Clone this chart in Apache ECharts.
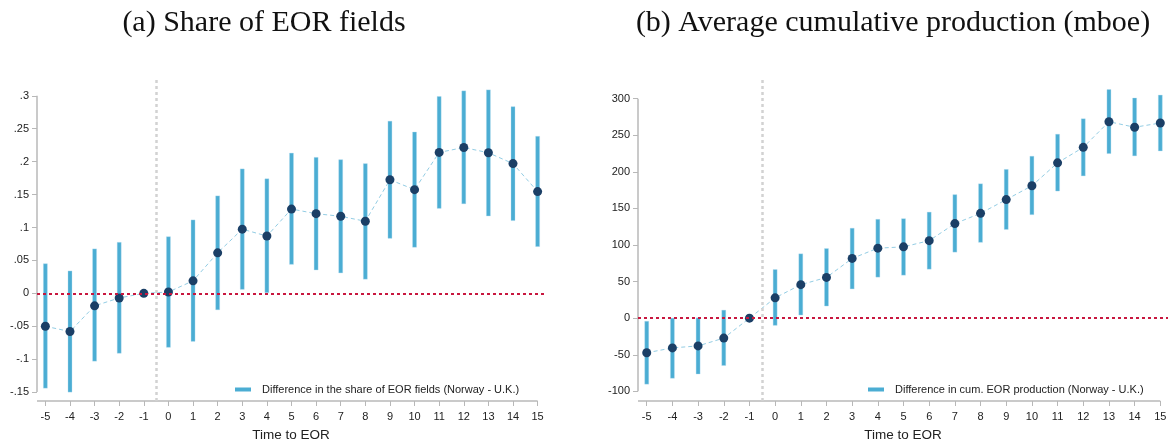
<!DOCTYPE html>
<html>
<head>
<meta charset="utf-8">
<script src="https://cdn.jsdelivr.net/npm/echarts@6/dist/echarts.min.js"></script>
<style>html,body{margin:0;padding:0;background:#fff}#c{width:1171px;height:447px}</style>
</head>
<body>
<div id="c"></div>
<script>
// ---- data ----
const timeToEOR = [-5,-4,-3,-2,-1,0,1,2,3,4,5,6,7,8,9,10,11,12,13,14,15];
const shareEst = [-0.050,-0.058,-0.019,-0.007,0,0.002,0.019,0.0615,0.0975,0.087,0.128,0.121,0.117,0.1095,0.1725,0.1575,0.214,0.2215,0.2135,0.197,0.1545];
const shareLo  = [-0.144,-0.150,-0.103,-0.091,null,-0.082,-0.073,-0.025,0.006,0.001,0.044,0.0355,0.031,0.0215,0.0835,0.070,0.129,0.136,0.1175,0.1105,0.071];
const shareHi  = [0.045,0.034,0.0675,0.0775,null,0.086,0.1115,0.148,0.189,0.174,0.213,0.2065,0.203,0.197,0.2615,0.245,0.299,0.3075,0.309,0.2835,0.2385];
const prodEst = [-47.3,-40.6,-37.9,-27.2,0,27.8,45.8,55.7,81.7,95.7,97.5,106,129.3,143.3,162.1,181,212.4,233.5,268.6,261,266.8];
const prodLo  = [-90.2,-82.1,-76.3,-64.7,null,-9.8,4.3,16.6,40,56.1,58.8,67,90.3,103.7,121.3,141.5,173.8,194.5,225,221.9,228.6];
const prodHi  = [-4.2,0,0.5,11,null,66.5,88,95.2,123,135.2,136,145,168.9,183.7,203.4,221.4,251.5,272.6,312.6,301,305];
const shareTicks = [-0.15,-0.1,-0.05,0,0.05,0.1,0.15,0.2,0.25,0.3];
const prodTicks = [-100,-50,0,50,100,150,200,250,300];
const titleA = '(a) Share of EOR fields';
const titleB = '(b) Average cumulative production (mboe)';
const nameA = 'Difference in the share of EOR fields (Norway - U.K.)';
const nameB = 'Difference in cum. EOR production (Norway - U.K.)';
const xTitle = 'Time to EOR';

// ---- styles ----
const BAR = '#4badd3', DOT = '#1b3f66', LINE = '#93cde4', RED = '#c8173f', GRAY = '#d2d2d2', AX = '#b8b8b8';
const SANS = 'Liberation Sans, Arial, sans-serif';
const XMIN = -5.34, XMAX = 15.3;
const panels = [
  {est: shareEst, lo: shareLo, hi: shareHi, ticks: shareTicks, ymin: -0.1635, ymax: 0.324, name: nameA,
   fmt: v => { const s = String(+(+v).toFixed(2)); return s.replace('0.', '.'); }},
  {est: prodEst, lo: prodLo, hi: prodHi, ticks: prodTicks, ymin: -113.2, ymax: 325.6, name: nameB,
   fmt: v => String(v)}
];

const chart = echarts.init(document.getElementById('c'), null, {renderer: 'canvas'});
const grids = [
  {left: 37, right: 1171 - 545, top: 80, bottom: 41.5},
  {left: 638, right: 3, top: 80, bottom: 41.5}
];
const xAxes = [], yAxes = [], series = [];
panels.forEach((p, i) => {
  xAxes.push({
    type: 'value', gridIndex: i, min: XMIN, max: XMAX, position: 'bottom',
    axisLine: {show: false, onZero: false},
    axisTick: {show: true, length: 5, customValues: timeToEOR, lineStyle: {color: AX, width: 1}},
    axisLabel: {customValues: timeToEOR, margin: 10, fontFamily: SANS, fontSize: 11, color: '#222'},
    splitLine: {show: false},
    name: xTitle, nameLocation: 'middle', nameGap: 27,
    nameTextStyle: {fontFamily: SANS, fontSize: 13.5, color: '#222'}
  });
  yAxes.push({
    type: 'value', gridIndex: i, min: p.ymin, max: p.ymax, position: 'left',
    axisLine: {show: false, onZero: false},
    axisTick: {show: true, length: 5, customValues: p.ticks, lineStyle: {color: AX, width: 1}},
    axisLabel: {customValues: p.ticks, margin: 8, fontFamily: SANS, fontSize: 11, color: '#222', formatter: p.fmt},
    splitLine: {show: false}
  });
  const barData = timeToEOR.map((t, k) => [t, p.lo[k], p.hi[k]]).filter(d => d[1] !== null);
  series.push({
    type: 'custom', name: p.name, xAxisIndex: i, yAxisIndex: i, z: 2,
    itemStyle: {color: BAR},
    data: barData,
    encode: {x: 0, y: [1, 2]},
    renderItem: (params, api) => {
      const x = api.value(0), a = api.coord([x, api.value(1)]), b = api.coord([x, api.value(2)]);
      return {type: 'rect', shape: {x: a[0] - 2, y: b[1], width: 4, height: a[1] - b[1]},
              style: {fill: BAR, stroke: 'rgba(180,220,240,0.6)', lineWidth: 0.6}};
    }
  });
  series.push({
    type: 'line', name: 'est' + i, xAxisIndex: i, yAxisIndex: i, z: 4,
    data: timeToEOR.map((t, k) => [t, p.est[k]]),
    symbol: 'circle', symbolSize: 9, showSymbol: true,
    itemStyle: {color: DOT},
    lineStyle: {color: LINE, width: 1, type: [4, 3]},
    emphasis: {disabled: true}
  });
  series.push({
    type: 'line', name: 'frame' + i, xAxisIndex: i, yAxisIndex: i, z: 3, clip: false,
    data: [], silent: true,
    markLine: {
      silent: true, symbol: 'none', animation: false, label: {show: false},
      data: [
        [{coord: [XMIN, p.ticks[0]], lineStyle: {color: AX, width: 1.5, type: 'solid'}},
         {coord: [XMIN, p.ticks[p.ticks.length - 1]]}],
        [{coord: [XMIN, p.ymin], lineStyle: {color: AX, width: 1.5, type: 'solid'}},
         {coord: [15, p.ymin]}],
        [{coord: [-0.5, p.ymin], lineStyle: {color: GRAY, width: 2.5, type: [3, 3]}},
         {coord: [-0.5, p.ymax]}],
        [{coord: [XMIN, 0], lineStyle: {color: RED, width: 2, type: [3, 3]}},
         {coord: [XMAX, 0]}]
      ]
    }
  });
});

const titleStyle = {fontFamily: 'Liberation Serif, serif', fontSize: 30, fontWeight: 'normal', color: '#111'};
const legendText = {fontFamily: SANS, fontSize: 11, color: '#222', padding: [0, 0, 0, 6]};
chart.setOption({
  animation: false,
  backgroundColor: '#fff',
  title: [
    {text: titleA, left: 259, top: 3, textAlign: 'center', textStyle: titleStyle},
    {text: titleB, left: 888, top: 3, textAlign: 'center', textStyle: titleStyle}
  ],
  legend: [
    {data: [{name: nameA, icon: 'rect'}], left: 235, top: 384, padding: 0, itemWidth: 16, itemHeight: 4,
     selectedMode: false, itemStyle: {color: BAR}, textStyle: legendText},
    {data: [{name: nameB, icon: 'rect'}], left: 868, top: 384, padding: 0, itemWidth: 16, itemHeight: 4,
     selectedMode: false, itemStyle: {color: BAR}, textStyle: legendText}
  ],
  grid: grids,
  xAxis: xAxes,
  yAxis: yAxes,
  series: series
});
</script>
</body>
</html>
